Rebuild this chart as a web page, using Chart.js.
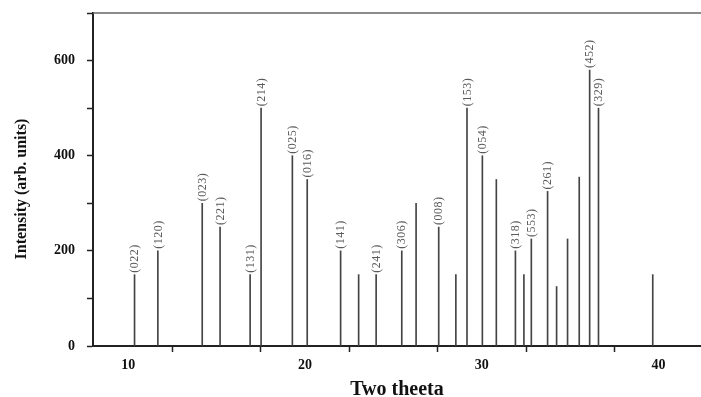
<!DOCTYPE html>
<html>
<head>
<meta charset="utf-8">
<script src="https://cdn.jsdelivr.net/npm/chart.js@4/dist/chart.umd.min.js"></script>
<style>
  html, body { margin: 0; padding: 0; background: #fff; }
  #wrap { width: 701px; height: 397px; position: relative; }
</style>
</head>
<body>
<div id="wrap"><canvas id="xrdChart"></canvas></div>
<script>
// peak positions (2 theta), intensities and (hkl) labels
const twoTheta = [10.35, 11.67, 14.18, 15.19, 16.89, 17.51, 19.28, 20.12, 22.01, 23.03, 24.02, 25.47, 26.28, 27.56,
  28.53, 29.16, 30.03, 30.82, 31.9, 32.38, 32.8, 33.72, 34.23, 34.85, 35.51, 36.1, 36.6, 39.67];
const intensity = [150, 200, 300, 250, 150, 500, 400, 350, 200, 150, 150, 200, 300, 250,
  150, 500, 400, 350, 200, 150, 225, 325, 125, 225, 355, 580, 500, 150];
const hkl = ["(022)", "(120)", "(023)", "(221)", "(131)", "(214)", "(025)", "(016)", "(141)", "", "(241)", "(306)", "", "(008)",
  "", "(153)", "(054)", "", "(318)", "", "(553)", "(261)", "", "", "", "(452)", "(329)", ""];
const xTickLabels = [10, 20, 30, 40];
const yTickLabels = [0, 200, 400, 600];

const serif = "'Liberation Serif', 'DejaVu Serif', serif";

// top frame line, y title and rotated hkl labels over each peak
const peakLabels = {
  id: "peakLabels",
  afterDraw(chart) {
    const ctx = chart.ctx;
    const area = chart.chartArea;
    ctx.save();
    ctx.strokeStyle = "#666";
    ctx.lineWidth = 1.5;
    ctx.beginPath();
    ctx.moveTo(area.left, area.top);
    ctx.lineTo(area.right, area.top);
    ctx.stroke();

    // y axis title, a bit below the middle like the original
    ctx.save();
    ctx.font = "bold 16px " + serif;
    ctx.fillStyle = "#111";
    ctx.textAlign = "center";
    ctx.textBaseline = "middle";
    ctx.translate(22, 189);
    ctx.rotate(-Math.PI / 2);
    ctx.fillText("Intensity (arb. units)", 0, 0);
    ctx.restore();

    const meta = chart.getDatasetMeta(0);
    ctx.font = "12px " + serif;
    ctx.letterSpacing = "0.5px";
    ctx.fillStyle = "#5a5a5a";
    ctx.textAlign = "left";
    ctx.textBaseline = "middle";
    meta.data.forEach(function (bar, i) {
      if (!hkl[i]) return;
      ctx.save();
      ctx.translate(bar.x + 0.5, bar.y - 2);
      ctx.rotate(-Math.PI / 2);
      ctx.fillText(hkl[i], 0, 0);
      ctx.restore();
    });
    ctx.restore();
  }
};

const ctx = document.getElementById("xrdChart").getContext("2d");
new Chart(ctx, {
  type: "bar",
  data: {
    datasets: [
      {
        data: twoTheta.map(function (t, i) { return { x: t, y: intensity[i] }; }),
        backgroundColor: "#444",
        borderWidth: 0,
        barThickness: 1
      }
    ]
  },
  options: {
    responsive: true,
    maintainAspectRatio: false,
    animation: false,
    layout: { padding: { top: 13, right: 0, left: 0, bottom: 0 } },
    plugins: {
      legend: { display: false },
      tooltip: { enabled: false }
    },
    scales: {
      x: {
        type: "linear",
        min: 8,
        max: 42.4,
        offset: false,
        border: { display: true, color: "#222", width: 2 },
        grid: { drawOnChartArea: false, drawTicks: true, tickLength: 6, color: "#222", tickWidth: 1.5 },
        ticks: {
          stepSize: 5,
          includeBounds: false,
          autoSkip: false,
          maxRotation: 0,
          padding: 5,
          color: "#111",
          font: { family: serif, size: 14, weight: "bold" },
          callback: function (v) { return xTickLabels.includes(v) ? String(v) : ""; }
        },
        title: {
          display: true,
          text: "Two theeta",
          color: "#111",
          font: { family: serif, size: 20, weight: "bold", lineHeight: 1 },
          padding: { top: 6, bottom: -3 }
        },
        afterFit: function (s) {
          s.height = 51;
          s.paddingLeft = 0;
          s.paddingRight = 0;
        }
      },
      y: {
        min: 0,
        max: 700,
        border: { display: true, color: "#222", width: 2 },
        grid: { drawOnChartArea: false, drawTicks: true, tickLength: 6, color: "#222", tickWidth: 1.5 },
        ticks: {
          stepSize: 100,
          includeBounds: false,
          autoSkip: false,
          padding: 12,
          color: "#111",
          font: { family: serif, size: 14, weight: "bold" },
          callback: function (v) { return yTickLabels.includes(v) ? String(v) : ""; }
        },
        afterFit: function (s) {
          s.width = 93;
          s.paddingTop = 0;
          s.paddingBottom = 0;
        }
      }
    }
  },
  plugins: [peakLabels]
});
</script>
</body>
</html>
